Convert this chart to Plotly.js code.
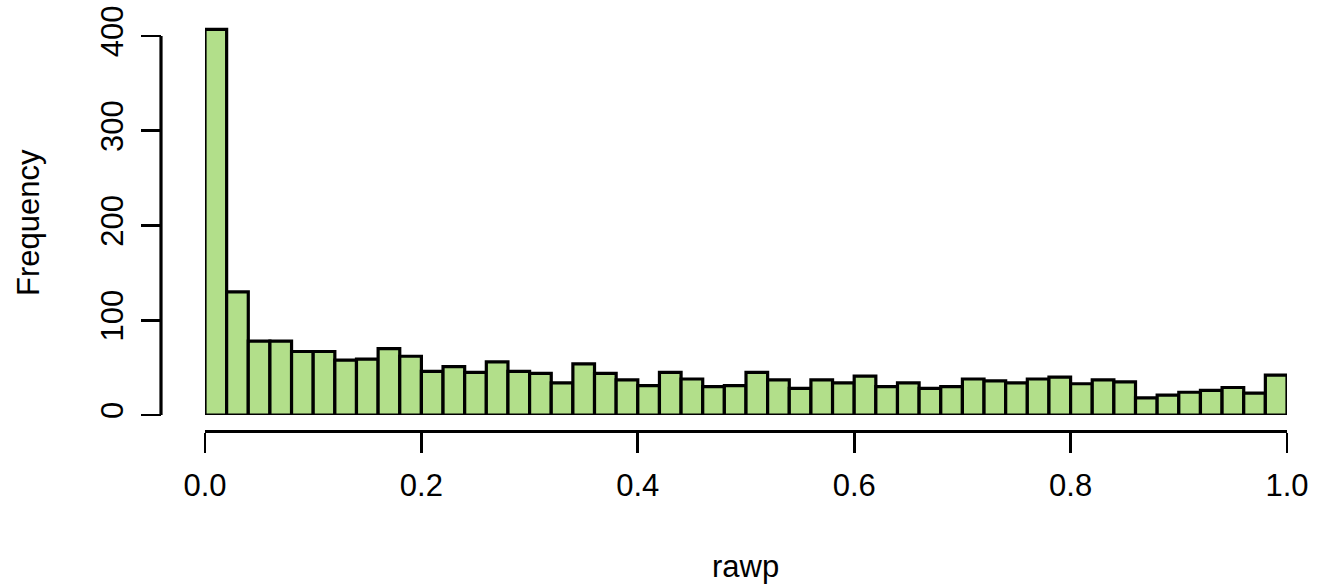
<!DOCTYPE html>
<html>
<head>
<meta charset="utf-8">
<script src="https://cdn.plot.ly/plotly-3.0.1.min.js"></script>
<style>
  html, body { margin: 0; padding: 0; background: #ffffff; }
  #chart { width: 1317px; height: 586px; }
</style>
</head>
<body>
<div id="chart"></div>
<script>
// Histogram of rawp: 50 bins of width 0.02 from 0 to 1
const binStart = 0.0;
const binWidth = 0.02;
const counts = [407, 130, 78, 78, 67, 67, 58, 59, 70, 62,
                46, 51, 45, 56, 46, 44, 34, 54, 44, 37,
                31, 45, 38, 30, 31, 45, 37, 28, 37, 34,
                41, 30, 34, 28, 30, 38, 36, 34, 38, 40,
                33, 37, 35, 18, 21, 24, 26, 29, 23, 42];
const xTickVals = [0.0, 0.2, 0.4, 0.6, 0.8, 1.0];
const xTickText = ['0.0', '0.2', '0.4', '0.6', '0.8', '1.0'];
const yTickVals = [0, 100, 200, 300, 400];
const yTickText = ['0', '100', '200', '300', '400'];
const xLabel = 'rawp';
const yLabel = 'Frequency';

const centers = counts.map((_, i) => binStart + (i + 0.5) * binWidth);

const W = 1317, H = 586;
const fontFam = 'Liberation Sans, Arial, sans-serif';

const trace = {
  type: 'bar',
  x: centers,
  y: counts,
  width: counts.map(() => binWidth),
  marker: { color: '#B2DF8A', line: { color: '#000000', width: 3.2 } },
  hoverinfo: 'x+y'
};

const layout = {
  width: W, height: H,
  margin: { l: 0, r: 0, t: 0, b: 0 },
  paper_bgcolor: '#ffffff',
  plot_bgcolor: '#ffffff',
  showlegend: false,
  bargap: 0,
  font: { family: fontFam, size: 31, color: '#000000' },
  xaxis: {
    domain: [205 / W, 1287 / W],
    range: [0, 1],
    anchor: 'free',
    position: (H - 430.5) / H,
    showgrid: false, zeroline: false,
    showline: true, linecolor: '#000000', linewidth: 3.2,
    ticks: 'outside', ticklen: 20, tickwidth: 2.6, tickcolor: '#000000',
    tickmode: 'array', tickvals: xTickVals, ticktext: xTickText,
    ticklabelstandoff: 6,
    tickfont: { family: fontFam, size: 31, color: '#000000' }
  },
  yaxis: {
    domain: [(H - 415) / H, (H - 415 + 420 * 379 / 400) / H],
    range: [0, 420],
    anchor: 'free',
    position: 161 / W,
    showgrid: false, zeroline: false,
    showline: false,
    ticks: 'outside', ticklen: 20, tickwidth: 2.6, tickcolor: '#000000',
    tickmode: 'array', tickvals: yTickVals, ticktext: yTickText,
    tickangle: -90,
    ticklabelstandoff: 6,
    tickfont: { family: fontFam, size: 31, color: '#000000' }
  },
  shapes: [{
    type: 'line', xref: 'paper', yref: 'y',
    x0: 161 / W, x1: 161 / W, y0: yTickVals[0], y1: yTickVals[yTickVals.length - 1],
    line: { color: '#000000', width: 3.2 }
  }],
  annotations: [
    { text: xLabel, xref: 'paper', yref: 'paper', x: 746 / W, y: (H - 566) / H,
      showarrow: false, xanchor: 'center', yanchor: 'middle',
      font: { family: fontFam, size: 31, color: '#000000' } },
    { text: yLabel, xref: 'paper', yref: 'paper', x: 28 / W, y: (H - 223) / H,
      showarrow: false, xanchor: 'center', yanchor: 'middle', textangle: -90,
      font: { family: fontFam, size: 31, color: '#000000' } }
  ]
};

Plotly.newPlot('chart', [trace], layout, { displayModeBar: false, staticPlot: true });
</script>
</body>
</html>
